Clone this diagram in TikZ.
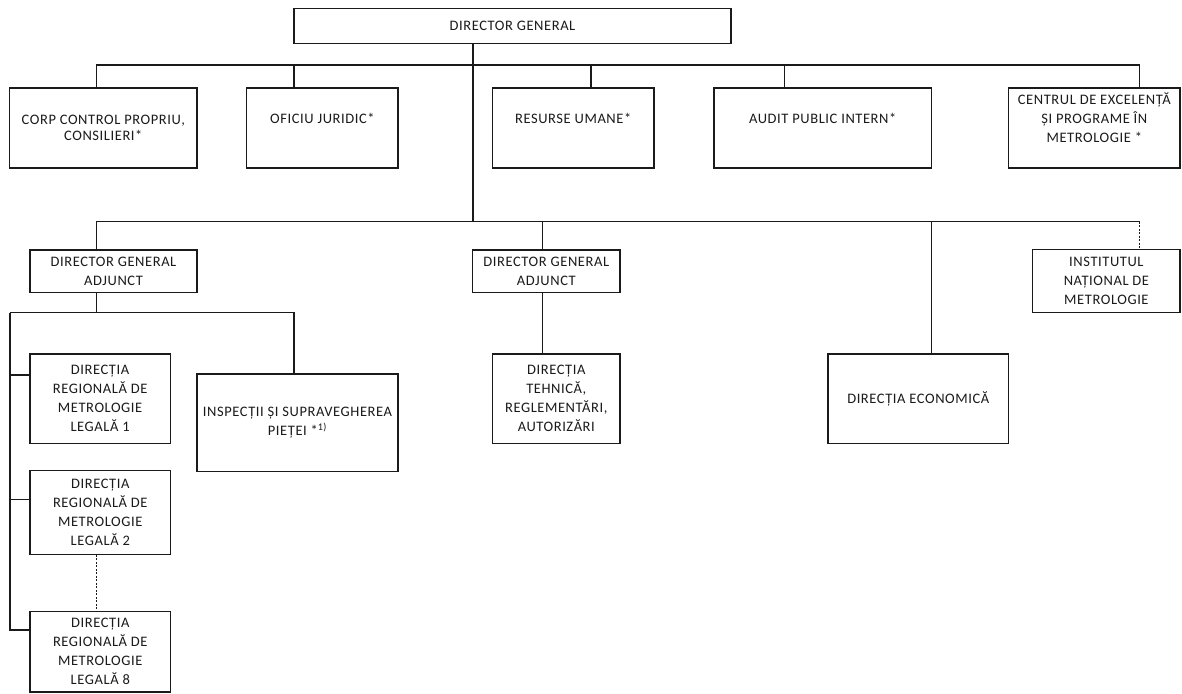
\documentclass[tikz,border=0pt]{standalone}
\usepackage{fontspec}
\newfontfamily\lab[LetterSpace=4]{Carlito}
\usetikzlibrary{calc}
\definecolor{ink}{HTML}{1A1A1A}
\tikzset{
  box/.style={draw=ink, line width=1.3pt, rectangle, inner sep=0pt, align=center,
    font=\lab\fontsize{14.5}{19}\selectfont, text=ink},
  lbl/.style={inner sep=0pt, align=center, font=\lab\fontsize{14.5}{19}\selectfont, text=ink},
  conn/.style={draw=ink, line width=1.3pt},
  dotconn/.style={draw=ink, line width=1.5pt, dash pattern=on 2pt off 1.5pt}
}
\begin{document}
\begin{tikzpicture}[x=1pt,y=-1pt]
\useasboundingbox (0,0) rectangle (1182,693);
% boxes
\node[box, minimum width=437pt, minimum height=35pt] (dg) at (512.5,25.8) {DIRECTOR GENERAL};
\node[box, minimum width=187.4pt, minimum height=80pt] (corp) at (103.3,128) {CORP CONTROL PROPRIU,\\[-3pt]CONSILIERI*};
\node[box, minimum width=151.2pt, minimum height=80pt] (ofi) at (322.4,128) {};
\node[lbl] (tofi) at (322.4,118) {OFICIU JURIDIC*};
\node[box, minimum width=161.4pt, minimum height=80pt] (res) at (573.2,128) {};
\node[lbl] (tres) at (573.2,118) {RESURSE UMANE*};
\node[box, minimum width=217.3pt, minimum height=80pt] (aud) at (822.7,128) {};
\node[lbl] (taud) at (822.7,118) {AUDIT PUBLIC INTERN*};
\node[box, minimum width=171.4pt, minimum height=80pt] (cen) at (1094.3,128) {};
\node[lbl] (tcen) at (1094.3,118) {CENTRUL DE EXCELENȚĂ\\ȘI PROGRAME ÎN\\METROLOGIE *};
\node[box, minimum width=167.1pt, minimum height=42.3pt] (dga1) at (113.5,271.2) {DIRECTOR GENERAL\\ADJUNCT};
\node[box, minimum width=147.4pt, minimum height=42.3pt] (dga2) at (546.3,271.2) {DIRECTOR GENERAL\\ADJUNCT};
\node[box, minimum width=147.3pt, minimum height=63pt] (inst) at (1106.4,280.8) {INSTITUTUL\\NAȚIONAL DE\\METROLOGIE};
\node[box, minimum width=140.4pt, minimum height=89.3pt] (dr1) at (100.1,398.7) {DIRECȚIA\\REGIONALĂ DE\\METROLOGIE\\LEGALĂ 1};
\node[box, minimum width=201pt, minimum height=97.7pt] (insp) at (297.5,422.9) {INSPECȚII ȘI SUPRAVEGHEREA\\PIEȚEI *\textsuperscript{1)}};
\node[box, minimum width=127.5pt, minimum height=89.3pt] (teh) at (556.3,398.7) {DIRECȚIA\\TEHNICĂ,\\REGLEMENTĂRI,\\AUTORIZĂRI};
\node[box, minimum width=180.6pt, minimum height=89.3pt] (eco) at (918.3,398.7) {DIRECȚIA ECONOMICĂ};
\node[box, minimum width=140.7pt, minimum height=83.6pt] (dr2) at (100.3,512.5) {DIRECȚIA\\REGIONALĂ DE\\METROLOGIE\\LEGALĂ 2};
\node[box, minimum width=140.7pt, minimum height=80.3pt] (dr8) at (100.3,651.8) {DIRECȚIA\\REGIONALĂ DE\\METROLOGIE\\LEGALĂ 8};
% junction coordinates
\coordinate (j1) at (473,65);
\coordinate (j2) at (473,221.7);
\coordinate (b1L) at (96.4,65);
\coordinate (b1R) at (1139.5,65);
\coordinate (s2) at (294,65);
\coordinate (s3) at (591,65);
\coordinate (s4) at (784.7,65);
\coordinate (b2L) at (96.4,221.7);
\coordinate (b2R) at (1139.5,221.7);
\coordinate (s5) at (542.7,221.7);
\coordinate (s6) at (931.3,221.7);
\coordinate (c3) at (96.4,312.7);
\coordinate (c3L) at (10,312.7);
\coordinate (c3R) at (294,312.7);
\coordinate (k1) at (10,375);
\coordinate (k2) at (10,499.3);
\coordinate (k8) at (10,630);
\coordinate (d) at (96.7,0);
% connectors
\draw[conn] (dg.south -| j1) -- (j2);
\draw[conn] (corp.north -| b1L) |- (b1R) -- (cen.north -| b1R);
\draw[conn] (s2) -- (ofi.north -| s2);
\draw[conn] (s3) -- (res.north -| s3);
\draw[conn] (s4) -- (aud.north -| s4);
\draw[conn] (dga1.north -| b2L) |- (b2R);
\draw[dotconn] (b2R) -- (inst.north -| b2R);
\draw[conn] (s5) -- (dga2.north -| s5);
\draw[conn] (s6) -- (eco.north -| s6);
\draw[conn] (dga1.south -| c3) -- (c3);
\draw[conn] (c3L) -- (c3R) -- (insp.north -| c3R);
\draw[conn] (c3L) -- (k8) -- (dr8.west |- k8);
\draw[conn] (k1) -- (dr1.west |- k1);
\draw[conn] (k2) -- (dr2.west |- k2);
\draw[conn] (dga2.south -| s5) -- (teh.north -| s5);
\draw[dotconn] (dr2.south -| d) -- (dr8.north -| d);
\end{tikzpicture}
\end{document}
